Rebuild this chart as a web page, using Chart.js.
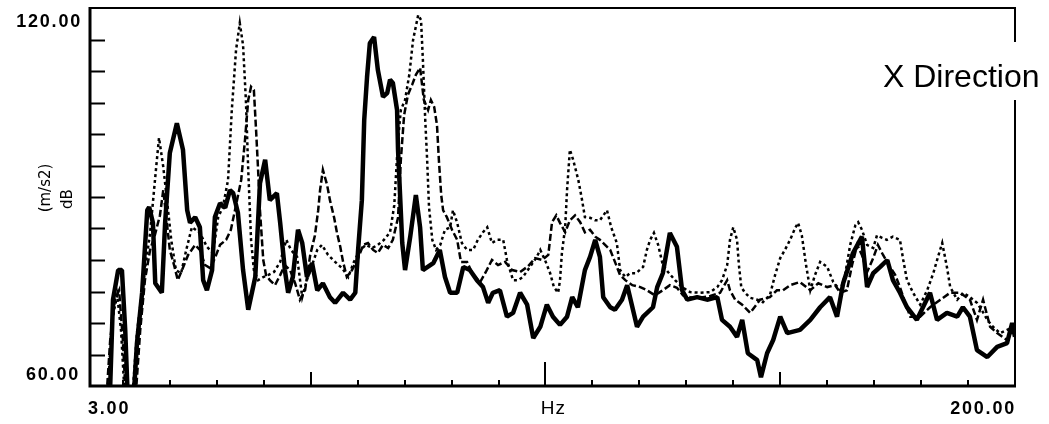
<!DOCTYPE html>
<html>
<head>
<meta charset="utf-8">
<script src="https://cdn.jsdelivr.net/npm/chart.js@4/dist/chart.umd.min.js"></script>
<style>
  html, body { margin: 0; padding: 0; background: #fff; }
  canvas { display: block; }
</style>
</head>
<body>
<canvas id="spectrum" width="1049" height="424"></canvas>
<script>
// Spectrum levels (frequency in Hz, level in dB)
const solidHz = [6.8, 7.3, 7.9, 9.0, 9.8, 10.5, 11.1, 12.2, 13.0, 14.1,
  15.2, 15.6, 16.4, 16.9, 18.3, 19.0, 20.0, 21.5, 22.8, 23.7,
  24.3, 25.4, 26.4, 27.1, 27.9, 29.0, 29.6, 30.7, 31.8, 32.8,
  33.5, 34.5, 35.6, 36.7, 38.2, 39.2, 40.3, 41.3, 42.8, 43.5,
  44.5, 45.2, 46.2, 47.3, 48.2, 49.2, 50.3, 51.4, 52.6, 54.1,
  55.2, 56.9, 58.4, 59.5, 60.1, 60.9, 61.4, 62.0, 62.6, 63.5,
  64.3, 65.4, 66.3, 66.9, 67.5, 68.4, 68.6, 69.5, 70.1, 71.2,
  72.4, 73.3, 73.9, 76.1, 77.5, 78.6, 79.7, 81.2, 82.5, 83.9,
  85.4, 86.7, 87.8, 88.8, 90.3, 91.8, 93.1, 94.6, 96.1, 97.4,
  98.9, 100.3, 101.6, 103.1, 104.6, 105.7, 106.9, 108.4, 109.5, 110.6,
  111.6, 112.3, 113.8, 114.8, 116.3, 117.4, 119.5, 120.8, 122.9, 123.8,
  125.0, 126.5, 128.0, 129.1, 130.2, 132.3, 134.4, 136.6, 137.6, 139.3,
  140.8, 141.9, 143.1, 145.1, 145.9, 147.2, 148.5, 150.0, 151.5, 154.2,
  156.4, 158.5, 160.6, 162.1, 163.4, 165.5, 167.4, 168.5, 169.8, 171.3,
  172.8, 174.0, 175.5, 177.0, 179.1, 180.4, 181.9, 183.4, 185.5, 187.7,
  188.9, 190.4, 191.9, 194.1, 196.2, 198.3, 199.4, 200.0];
const solidDb = [56, 60.0, 73.7, 78.4, 78.4, 68.9, 57, 57, 66.8, 74.8,
  87.9, 88.4, 85.9, 76.3, 74.8, 85.9, 97.0, 101.7, 97.5, 87.9,
  85.9, 86.8, 85.2, 76.8, 75.2, 78.4, 86.8, 89.0, 88.3, 91.1,
  90.6, 87.5, 78.4, 72.1, 77.3, 92.2, 95.9, 89.5, 90.6, 85.9,
  78.4, 74.8, 77.3, 84.8, 82.7, 77.3, 79.5, 75.2, 76.3, 74.1,
  73.2, 74.8, 73.7, 74.8, 81.6, 89.5, 102.2, 109.0, 114.4, 115.4,
  110.2, 105.9, 106.5, 108.6, 108.1, 103.8, 97.5, 82.7, 78.4, 83.7,
  90.3, 85.2, 78.4, 79.5, 81.6, 77.3, 74.8, 74.8, 78.9, 78.4,
  76.8, 75.7, 73.2, 74.8, 75.2, 71.0, 71.6, 74.8, 72.9, 67.6,
  69.4, 72.9, 71.0, 69.7, 71.0, 74.1, 72.5, 78.4, 80.5, 83.2,
  80.5, 74.1, 72.5, 72.1, 73.7, 76.0, 69.4, 71.0, 72.5, 75.7,
  77.9, 84.3, 82.1, 75.2, 73.7, 74.1, 73.7, 74.1, 70.5, 69.4,
  67.8, 70.5, 65.2, 64.1, 61.4, 65.2, 67.3, 71.0, 68.4, 68.9,
  70.5, 72.5, 74.1, 71.0, 76.3, 81.1, 83.7, 75.7, 77.9, 78.9,
  80.0, 76.8, 74.8, 72.5, 70.5, 72.5, 74.8, 70.5, 71.6, 71.0,
  72.5, 71.0, 65.7, 64.6, 66.2, 66.8, 70.0, 67.8];

const dotHz = [6.6, 7.7, 8.8, 9.6, 10.5, 11.9, 13.0, 14.3, 15.8, 17.1,
  17.7, 18.6, 19.4, 20.3, 21.3, 22.4, 23.5, 24.7, 26.4, 27.9,
  29.2, 30.3, 31.3, 32.4, 33.2, 34.1, 34.9, 35.6, 36.2, 36.7,
  37.3, 37.9, 38.8, 39.9, 40.9, 42.2, 43.5, 44.8, 45.8, 47.1,
  48.2, 49.2, 50.3, 51.4, 52.4, 53.7, 55.2, 56.7, 58.0, 59.2,
  60.5, 61.8, 63.1, 64.3, 65.6, 66.9, 67.8, 68.6, 69.2, 70.1,
  71.0, 71.8, 72.9, 73.5, 73.9, 74.4, 74.8, 75.2, 75.9, 76.7,
  77.6, 78.6, 79.7, 80.3, 81.2, 82.2, 83.3, 84.6, 85.6, 86.7,
  87.6, 88.6, 89.7, 91.0, 91.8, 93.1, 94.2, 95.2, 96.7, 98.0,
  98.9, 99.9, 101.0, 101.8, 102.7, 103.1, 103.5, 104.2, 104.6, 105.2,
  105.9, 107.0, 107.8, 108.4, 109.5, 110.6, 111.6, 113.1, 114.0, 115.2,
  115.9, 117.0, 118.0, 119.3, 120.8, 121.6, 122.3, 123.1, 124.0, 125.0,
  126.1, 127.6, 129.1, 130.8, 132.9, 135.1, 136.6, 137.6, 138.7, 139.3,
  140.0, 140.8, 141.2, 141.7, 142.5, 143.6, 145.1, 146.3, 147.8, 148.9,
  150.0, 151.0, 152.1, 153.2, 153.8, 154.6, 155.5, 156.4, 157.4, 158.5,
  160.0, 161.3, 162.8, 163.8, 164.9, 166.0, 166.6, 167.4, 168.5, 169.8,
  170.6, 171.7, 172.7, 174.0, 175.5, 176.2, 177.0, 178.3, 179.8, 181.3,
  182.6, 183.6, 184.5, 185.5, 186.2, 187.7, 189.0, 190.4, 191.9, 193.2,
  194.1, 195.3, 196.8, 198.3, 199.6];
const dotDb = [57, 70.5, 74.4, 68.9, 57, 57, 68.4, 76.3, 84.3, 94.8,
  99.4, 94.8, 89.5, 83.2, 78.4, 77.9, 81.6, 85.2, 84.3, 82.1,
  81.1, 86.8, 88.4, 92.7, 103.8, 113.3, 117.6, 114.1, 105.4, 94.3,
  83.2, 78.4, 76.8, 77.3, 77.6, 78.1, 79.7, 83.2, 81.6, 80.5,
  74.1, 76.8, 79.2, 81.6, 82.4, 80.8, 79.7, 78.7, 77.3, 79.7,
  81.6, 82.4, 81.9, 82.4, 83.2, 84.4, 88.7, 99.0, 103.8, 105.4,
  109.4, 114.9, 118.9, 118.1, 111.7, 102.2, 95.9, 88.4, 83.2, 81.6,
  82.4, 84.8, 85.2, 87.9, 85.9, 82.7, 81.6, 81.6, 83.2, 84.4,
  85.2, 82.7, 83.2, 83.2, 80.0, 76.8, 76.8, 77.3, 78.9, 80.3,
  81.6, 80.0, 77.9, 75.7, 74.8, 76.8, 81.1, 85.2, 91.1, 97.5,
  95.9, 92.7, 89.5, 86.8, 86.7, 86.3, 86.3, 87.9, 85.2, 82.7,
  78.4, 77.3, 77.9, 77.9, 78.9, 81.6, 83.2, 84.3, 82.4, 79.2,
  78.1, 76.8, 75.7, 74.9, 74.8, 74.9, 75.7, 76.8, 79.2, 83.2,
  85.2, 83.2, 79.2, 75.7, 74.8, 74.0, 73.7, 73.3, 74.4, 77.6,
  80.3, 81.6, 83.2, 85.1, 85.9, 83.9, 79.2, 75.2, 77.6, 79.7,
  78.9, 76.5, 75.2, 77.6, 82.4, 85.5, 86.0, 84.8, 82.4, 81.9,
  83.9, 83.5, 83.2, 83.7, 83.2, 80.0, 76.8, 74.8, 72.9, 75.2,
  77.9, 80.5, 82.7, 78.9, 75.7, 73.7, 74.8, 74.1, 73.2, 71.7,
  70.5, 69.4, 68.4, 68.9, 69.4];

const dashHz = [6.4, 7.3, 8.3, 9.2, 10.0, 10.7, 12.6, 13.7, 14.7, 15.8,
  16.8, 17.9, 18.6, 19.2, 20.0, 20.9, 21.7, 22.6, 23.9, 25.4,
  26.4, 27.5, 28.6, 29.6, 30.7, 32.0, 33.0, 34.1, 35.2, 36.0,
  36.7, 37.3, 37.9, 38.4, 38.8, 39.2, 39.9, 40.5, 41.3, 42.4,
  43.5, 44.5, 45.6, 46.7, 47.7, 48.8, 49.9, 50.9, 51.6, 52.0,
  52.6, 53.5, 54.1, 55.0, 55.6, 56.3, 56.9, 57.7, 58.8, 60.1,
  61.2, 62.2, 63.3, 64.3, 65.4, 66.5, 67.5, 68.6, 69.2, 69.9,
  70.7, 71.6, 72.4, 73.3, 74.1, 75.0, 75.6, 76.3, 76.9, 77.3,
  77.8, 78.2, 79.0, 80.1, 81.2, 82.0, 83.3, 84.6, 86.1, 87.3,
  88.6, 89.9, 91.4, 92.9, 94.6, 96.3, 97.8, 99.3, 100.6, 101.4,
  102.3, 103.1, 104.2, 105.2, 106.3, 107.4, 108.4, 109.5, 110.6, 111.6,
  112.7, 113.8, 114.8, 115.9, 117.0, 118.5, 120.2, 121.6, 123.3, 125.0,
  126.5, 128.0, 129.3, 130.8, 132.9, 135.1, 137.2, 138.7, 139.3, 140.4,
  141.9, 143.6, 145.7, 147.8, 149.3, 150.6, 152.1, 154.2, 156.4, 158.1,
  160.0, 161.7, 162.8, 164.2, 165.3, 166.4, 167.4, 168.5, 169.8, 170.8,
  171.9, 173.4, 174.5, 175.5, 176.6, 177.7, 179.8, 181.9, 184.1, 186.2,
  188.3, 190.4, 191.9, 193.2, 194.7, 196.2, 198.3, 199.6];
const dashDb = [57, 67.3, 73.7, 75.2, 67.3, 57, 57, 68.9, 76.8, 81.6,
  83.9, 87.1, 91.1, 87.1, 81.6, 79.2, 76.8, 78.4, 80.8, 82.4,
  81.6, 79.2, 78.7, 80.3, 82.4, 83.2, 84.8, 88.7, 92.7, 99.0,
  105.4, 107.5, 107.0, 100.2, 94.3, 87.9, 80.0, 77.6, 76.8, 76.0,
  77.6, 79.2, 78.4, 76.3, 73.7, 75.2, 80.8, 83.9, 87.9, 91.1,
  94.3, 91.9, 89.5, 86.7, 84.3, 82.1, 79.7, 77.3, 78.4, 80.3,
  82.4, 82.7, 81.6, 81.1, 82.4, 81.9, 83.2, 86.7, 95.9, 103.0,
  106.2, 107.8, 109.4, 110.5, 105.4, 103.8, 105.4, 104.3, 101.4, 95.9,
  90.3, 87.9, 86.8, 84.8, 83.2, 79.7, 79.7, 77.6, 76.5, 78.1,
  80.0, 79.2, 79.7, 78.4, 78.1, 79.0, 80.3, 80.0, 80.8, 86.0,
  87.1, 85.9, 84.4, 86.3, 87.1, 86.0, 84.4, 84.8, 83.7, 83.2,
  82.4, 81.6, 79.7, 77.6, 76.8, 76.0, 75.7, 75.2, 74.4, 75.2,
  76.0, 75.6, 74.4, 74.1, 74.0, 74.3, 74.8, 76.8, 75.2, 73.7,
  72.9, 71.6, 73.7, 74.1, 75.2, 75.2, 76.0, 76.5, 75.2, 76.3,
  75.7, 76.0, 74.8, 75.2, 79.2, 82.4, 80.8, 78.1, 80.3, 82.4,
  80.8, 78.9, 77.6, 75.7, 73.2, 71.0, 71.0, 72.5, 73.7, 74.8,
  74.8, 73.7, 70.5, 73.7, 69.4, 68.4, 67.3, 68.9];

// axis ticks and labels
const xTicks = [10, 20, 30, 40, 60, 70, 80, 90, 110, 120, 130, 140, 160, 170, 180, 190];
const xMajorTicks = [50, 100, 150];
const yTicks = [65, 70, 75, 80, 85, 90, 95, 100, 105, 110, 115];
const xMin = 3, xMax = 200, yMin = 60, yMax = 120;
const xLabels = ['3.00', 'Hz', '200.00'];
const yLabels = ['60.00', '120.00'];
const yTitle = ['(m/s2)', 'dB'];
const panelTitle = 'X Direction';

function pts(xs, ys) {
  const n = Math.min(xs.length, ys.length);
  const out = [];
  for (let i = 0; i < n; i++) out.push({x: xs[i], y: ys[i]});
  return out;
}

// frame, inside ticks and the text around the plot
const framePlugin = {
  id: 'frame',
  afterDatasetsDraw(chart) {
    const {ctx, chartArea: a} = chart;
    const x = chart.scales.x, y = chart.scales.y;
    ctx.save();
    ctx.strokeStyle = '#000';
    ctx.fillStyle = '#000';

    // top and right border (right one broken for the panel title)
    ctx.lineWidth = 2;
    ctx.beginPath();
    ctx.moveTo(a.left, a.top); ctx.lineTo(a.right + 1, a.top);
    ctx.moveTo(a.right, a.top); ctx.lineTo(a.right, 42);
    ctx.moveTo(a.right, 100); ctx.lineTo(a.right, a.bottom);
    ctx.stroke();

    // left and bottom axis
    ctx.lineWidth = 3;
    ctx.beginPath();
    ctx.moveTo(a.left, a.top - 1); ctx.lineTo(a.left, a.bottom);
    ctx.lineTo(a.right + 1, a.bottom);
    ctx.stroke();

    // tick marks pointing into the plot
    ctx.lineWidth = 2;
    ctx.beginPath();
    yTicks.forEach(v => {
      const py = Math.round(y.getPixelForValue(v)) + 0.5;
      ctx.moveTo(a.left, py); ctx.lineTo(a.left + 15, py);
    });
    xTicks.forEach(v => {
      const px = Math.round(x.getPixelForValue(v));
      ctx.moveTo(px, a.bottom); ctx.lineTo(px, a.bottom - 6);
    });
    xMajorTicks.forEach(v => {
      const px = Math.round(x.getPixelForValue(v));
      ctx.moveTo(px, a.bottom); ctx.lineTo(px, a.bottom - (v === 100 ? 24 : 14));
    });
    ctx.stroke();

    // tick labels
    ctx.font = 'bold 18px "Liberation Sans"';
    ctx.letterSpacing = '1.8px';
    ctx.textBaseline = 'alphabetic';
    ctx.textAlign = 'right';
    ctx.fillText(yLabels[1], 82, y.getPixelForValue(yMax) + 19);
    ctx.fillText(yLabels[0], 80, y.getPixelForValue(yMin) - 6);
    ctx.textAlign = 'left';
    ctx.fillText(xLabels[0], x.getPixelForValue(xMin) - 2, a.bottom + 28);
    ctx.textAlign = 'right';
    ctx.fillText(xLabels[2], x.getPixelForValue(xMax) + 1, a.bottom + 28);
    ctx.textAlign = 'center';
    ctx.letterSpacing = '1px';
    ctx.font = '19px "Liberation Sans"';
    ctx.fillText(xLabels[1], x.getPixelForValue(100) + 8, a.bottom + 28);

    // y axis title, rotated
    ctx.letterSpacing = '0px';
    ctx.font = '15px "DejaVu Sans"';
    ctx.save();
    ctx.translate(50, 188);
    ctx.rotate(-Math.PI / 2);
    ctx.textAlign = 'center';
    ctx.fillText(yTitle[0], 0, 0);
    ctx.restore();
    ctx.save();
    ctx.translate(72, 199);
    ctx.rotate(-Math.PI / 2);
    ctx.textAlign = 'center';
    ctx.fillText(yTitle[1], 0, 0);
    ctx.restore();

    // panel title
    ctx.font = '32px "Liberation Sans"';
    ctx.textAlign = 'left';
    ctx.fillText(panelTitle, 883, 87);
    ctx.restore();
  }
};

new Chart(document.getElementById('spectrum'), {
  type: 'line',
  data: {
    datasets: [
      {
        label: 'dotted',
        data: pts(dotHz, dotDb),
        borderColor: '#000',
        borderWidth: 2.5,
        borderDash: [3, 3],
        pointRadius: 0,
        tension: 0,
        clip: 0
      },
      {
        label: 'dashed',
        data: pts(dashHz, dashDb),
        borderColor: '#000',
        borderWidth: 2.5,
        borderDash: [7, 3],
        pointRadius: 0,
        tension: 0,
        clip: 0
      },
      {
        label: 'solid',
        data: pts(solidHz, solidDb),
        borderColor: '#000',
        borderWidth: 4.5,
        borderJoinStyle: 'bevel',
        pointRadius: 0,
        tension: 0,
        clip: 0
      }
    ]
  },
  options: {
    responsive: false,
    animation: false,
    layout: { padding: { left: 90, right: 34, top: 8, bottom: 38 } },
    plugins: { legend: { display: false }, tooltip: { enabled: false } },
    scales: {
      x: { type: 'linear', min: xMin, max: xMax, display: false },
      y: { type: 'linear', min: yMin, max: yMax, display: false }
    }
  },
  plugins: [framePlugin]
});
</script>
</body>
</html>
